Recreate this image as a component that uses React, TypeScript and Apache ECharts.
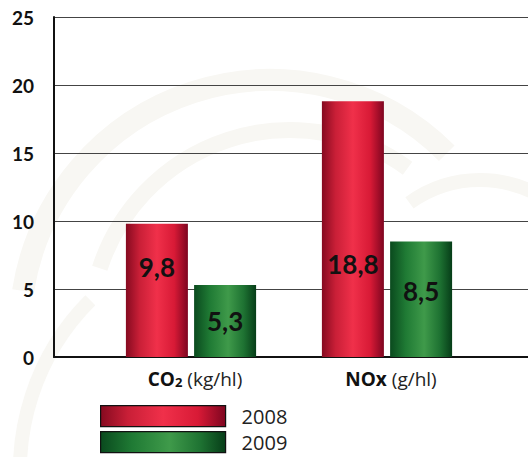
import React, { useEffect, useRef } from "react";
import * as echarts from "echarts";

const categories = ["CO2", "NOx"];
const units = ["(kg/hl)", "(g/hl)"];
const years = ["2008", "2009"];
const values2008 = [9.8, 18.8];
const values2009 = [5.3, 8.5];
const yMin = 0;
const yMax = 25;
const yStep = 5;

const labelOffsets2008 = [-23, 35];
const labelOffsets2009 = [0, -8];

const redGrad = () =>
  new echarts.graphic.LinearGradient(0, 0, 1, 0, [
    { offset: 0, color: "#860a20" },
    { offset: 0.22, color: "#c91f37" },
    { offset: 0.5, color: "#f0304a" },
    { offset: 0.78, color: "#d81a36" },
    { offset: 1, color: "#7e0520" },
  ]);
const greenGrad = () =>
  new echarts.graphic.LinearGradient(0, 0, 1, 0, [
    { offset: 0, color: "#0a4a1e" },
    { offset: 0.25, color: "#1f7a34" },
    { offset: 0.55, color: "#3f9a4a" },
    { offset: 0.8, color: "#1e7232" },
    { offset: 1, color: "#063d18" },
  ]);

const fmt = (v: number) => String(v).replace(".", ",");

export default function App() {
  const ref = useRef<HTMLDivElement>(null);
  useEffect(() => {
    if (!ref.current) return;
    const chart = echarts.init(ref.current, null, { renderer: "svg" });
    const labelStyle = {
      show: true,
      position: "inside" as const,
      fontFamily: "Lato",
      fontWeight: "bold" as const,
      fontSize: 26,
      color: "#111",
      formatter: (p: any) => fmt(p.value),
    };
    const mk = (vals: number[], offs: number[]) =>
      vals.map((v, i) => ({ value: v, label: { offset: [0, offs[i]] } }));
    const legendBase = {
      orient: "vertical",
      left: 100,
      itemWidth: 125,
      itemHeight: 21,
      icon: "rect",
      itemStyle: { borderColor: "#111", borderWidth: 1.2 },
      textStyle: { fontFamily: "Open Sans", fontSize: 20, lineHeight: 20, color: "#222", padding: [0, 0, 0, 11] },
      padding: 0,
    };
    const wm = "#f8f7f3";
    chart.setOption({
      animation: false,
      backgroundColor: "#ffffff",
      graphic: [
        { type: "arc", z: -10, silent: true, shape: { cx: 270, cy: 330, r: 250, startAngle: Math.PI * 1.05, endAngle: Math.PI * 1.75 }, style: { stroke: wm, lineWidth: 22, fill: "none" } },
        { type: "arc", z: -10, silent: true, shape: { cx: 290, cy: 330, r: 200, startAngle: Math.PI * 1.1, endAngle: Math.PI * 1.7 }, style: { stroke: wm, lineWidth: 16, fill: "none" } },
        { type: "arc", z: -10, silent: true, shape: { cx: 260, cy: 470, r: 240, startAngle: Math.PI * 0.95, endAngle: Math.PI * 1.25 }, style: { stroke: wm, lineWidth: 14, fill: "none" } },
        { type: "arc", z: -10, silent: true, shape: { cx: 480, cy: 300, r: 120, startAngle: Math.PI * 1.3, endAngle: Math.PI * 2.1 }, style: { stroke: wm, lineWidth: 14, fill: "none" } },
      ],
      grid: [
        { left: 54, right: 0, top: 17, bottom: 100, containLabel: false },
        { left: 93, width: 392, top: 17, bottom: 100, containLabel: false },
      ],
      legend: [
        { ...legendBase, top: 405, data: [years[0]] },
        { ...legendBase, top: 431, data: [years[1]] },
      ],
      xAxis: [
        {
          gridIndex: 0,
          type: "value",
          min: 0,
          max: 1,
          axisLine: { show: true, onZero: false, lineStyle: { color: "#111", width: 2 } },
          axisTick: { show: false },
          axisLabel: { show: false },
          splitLine: { show: false },
        },
        {
          gridIndex: 1,
          type: "category",
          data: categories,
          axisLine: { show: false },
          axisTick: { show: false },
          axisLabel: {
            margin: 12,
            formatter: (v: string) => {
              const i = categories.indexOf(v);
              if (v === "CO2") return `{b|CO}{s|2}{n| ${units[i]}}`;
              return `{b|${v}}{n| ${units[i]}}`;
            },
            rich: {
              b: { fontFamily: "Open Sans", fontWeight: "bold", fontSize: 19, color: "#111", padding: [0, 0, 0, 8] },
              s: { fontFamily: "Open Sans", fontWeight: "bold", fontSize: 13, color: "#111", verticalAlign: "bottom", padding: [4, 0, 0, 0] },
              n: { fontFamily: "Open Sans", fontSize: 19, color: "#222" },
            },
          },
        },
      ],
      yAxis: [
        {
          gridIndex: 0,
          type: "value",
          min: yMin,
          max: yMax,
          interval: yStep,
          axisLine: { show: true, lineStyle: { color: "#111", width: 2 } },
          axisTick: { show: false },
          axisLabel: {
            margin: 20,
            fontFamily: "Lato",
            fontWeight: "bold",
            fontSize: 19,
            color: "#111",
            padding: [5, 0, 0, 0],
          },
          splitLine: { show: true, lineStyle: { color: "#444", width: 1 } },
        },
        {
          gridIndex: 1,
          type: "value",
          min: yMin,
          max: yMax,
          interval: yStep,
          show: false,
        },
      ],
      series: [
        {
          name: years[0],
          type: "bar",
          xAxisIndex: 1,
          yAxisIndex: 1,
          barWidth: 62,
          barGap: "10%",
          itemStyle: { color: redGrad() },
          label: labelStyle,
          data: mk(values2008, labelOffsets2008),
        },
        {
          name: years[1],
          type: "bar",
          xAxisIndex: 1,
          yAxisIndex: 1,
          barWidth: 62,
          barGap: "10%",
          itemStyle: { color: greenGrad() },
          label: labelStyle,
          data: mk(values2009, labelOffsets2009),
        },
      ],
    });
    return () => chart.dispose();
  }, []);
  return (
    <div
      ref={ref}
      style={{ position: "absolute", left: 0, top: 0, width: 528, height: 457 }}
    />
  );
}
